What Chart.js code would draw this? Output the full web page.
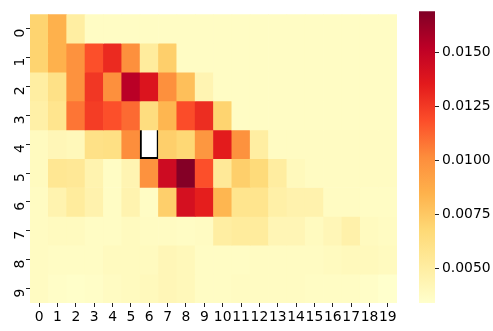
<!DOCTYPE html>
<html>
<head>
<meta charset="UTF-8" />
<title>Heatmap</title>
<script src="https://cdn.jsdelivr.net/npm/chart.js"></script>
<style>
  body { margin: 0; background: #fff; }
  #wrap { position: relative; width: 493px; height: 331px; }
  #main { position: absolute; left: 0; top: 0; }
  #cbar { position: absolute; left: 405px; top: 0; }
</style>
</head>
<body>
<div id="wrap">
  <canvas id="main" width="400" height="331"></canvas>
  <canvas id="cbar" width="88" height="331"></canvas>
</div>
<script>
const rowLabels = ['0','1','2','3','4','5','6','7','8','9'];
const colLabels = ['0','1','2','3','4','5','6','7','8','9','10','11','12','13','14','15','16','17','18','19'];

// one array per row, null = masked cell
const row0 = [0.0070,0.0085,0.0050,0.0037,0.0037,0.0037,0.0037,0.0037,0.0037,0.0037,0.0037,0.0037,0.0037,0.0037,0.0037,0.0037,0.0037,0.0037,0.0037,0.0037];
const row1 = [0.0070,0.0085,0.0099,0.0118,0.0130,0.0100,0.0052,0.0072,0.0037,0.0037,0.0037,0.0037,0.0037,0.0037,0.0037,0.0037,0.0037,0.0037,0.0037,0.0037];
const row2 = [0.0050,0.0061,0.0099,0.0126,0.0100,0.0153,0.0139,0.0100,0.0079,0.0044,0.0037,0.0037,0.0037,0.0037,0.0037,0.0037,0.0037,0.0037,0.0037,0.0037];
const row3 = [0.0048,0.0058,0.0108,0.0124,0.0118,0.0111,0.0064,0.0083,0.0119,0.0129,0.0070,0.0037,0.0037,0.0037,0.0037,0.0037,0.0037,0.0037,0.0037,0.0037];
const row4 = [0.0039,0.0042,0.0041,0.0061,0.0062,0.0101,null,0.0072,0.0068,0.0097,0.0135,0.0099,0.0050,0.0038,0.0038,0.0038,0.0038,0.0038,0.0038,0.0038];
const row5 = [0.0039,0.0056,0.0055,0.0045,0.0037,0.0044,0.0099,0.0145,0.0168,0.0118,0.0054,0.0072,0.0066,0.0051,0.0040,0.0038,0.0038,0.0038,0.0038,0.0038];
const row6 = [0.0038,0.0045,0.0052,0.0046,0.0037,0.0045,0.0037,0.0072,0.0142,0.0134,0.0083,0.0058,0.0058,0.0048,0.0046,0.0046,0.0038,0.0038,0.0037,0.0037];
const row7 = [0.0038,0.0039,0.0039,0.0037,0.0037,0.0039,0.0038,0.0038,0.0037,0.0038,0.0050,0.0052,0.0052,0.0043,0.0043,0.0039,0.0042,0.0047,0.0039,0.0038];
const row8 = [0.0038,0.0037,0.0037,0.0037,0.0039,0.0039,0.0039,0.0042,0.0041,0.0037,0.0037,0.0037,0.0038,0.0038,0.0038,0.0038,0.0039,0.0040,0.0040,0.0039];
const row9 = [0.0038,0.0036,0.0035,0.0036,0.0038,0.0039,0.0040,0.0042,0.0041,0.0037,0.0037,0.0038,0.0038,0.0038,0.0038,0.0037,0.0037,0.0037,0.0036,0.0034];
const rows = [row0,row1,row2,row3,row4,row5,row6,row7,row8,row9];

const vmin = 0.0034, vmax = 0.0169;
const cbarTicks = [0.005, 0.0075, 0.01, 0.0125, 0.015];

// YlOrRd
const stops = [[255,255,204],[255,237,160],[254,217,118],[254,178,76],[253,141,60],[252,78,42],[227,26,28],[189,0,38],[128,0,38]];
function cmap(t) {
  t = Math.max(0, Math.min(1, t));
  const p = t * (stops.length - 1);
  const i = Math.min(Math.floor(p), stops.length - 2);
  const f = p - i;
  const a = stops[i], b = stops[i + 1];
  return 'rgb(' + a.map((v, k) => Math.round(v + (b[k] - v) * f)).join(',') + ')';
}
function colorOf(v) {
  if (v == null) return '#ffffff';
  return cmap((v - vmin) / (vmax - vmin));
}

const font = { family: 'DejaVu Sans', size: 13.9 };

new Chart(document.getElementById('main'), {
  type: 'bar',
  data: {
    labels: colLabels,
    datasets: rows.map((vals, r) => ({
      data: vals.map(() => [r - 0.5, r + 0.5]),
      backgroundColor: vals.map(v => colorOf(v)),
      borderColor: vals.map(v => v == null ? '#000' : 'rgba(0,0,0,0)'),
      borderWidth: vals.map(v => v == null ? 2 : 0),
      barPercentage: 1,
      categoryPercentage: 1,
      grouped: false
    }))
  },
  options: {
    responsive: false,
    animation: false,
    layout: { padding: { top: 5, right: 3, left: 0, bottom: 0 } },
    plugins: { legend: { display: false }, tooltip: { enabled: false } },
    scales: {
      x: {
        grid: { display: true, drawOnChartArea: false, tickLength: 4, color: '#222', offset: false },
        border: { display: false },
        ticks: { font: font, color: '#000', padding: 2, maxRotation: 0, minRotation: 0, autoSkip: false },
        afterFit: s => { s.height = 28; }
      },
      y: {
        type: 'linear',
        min: -0.5, max: 9.5, reverse: true,
        grid: { display: true, drawOnChartArea: false, tickLength: 4, color: '#222' },
        border: { display: false },
        afterBuildTicks: s => { s.ticks = rowLabels.map((l, i) => ({ value: i })); },
        ticks: { font: font, color: '#000', padding: 6, minRotation: 90, maxRotation: 90,
                 callback: (v) => rowLabels[v] },
        afterFit: s => { s.width = 30; }
      }
    }
  }
});

new Chart(document.getElementById('cbar'), {
  type: 'bar',
  data: {
    labels: ['c'],
    datasets: [{
      data: [[vmin, vmax]],
      barPercentage: 1,
      categoryPercentage: 1,
      borderWidth: 0,
      backgroundColor: ctx => {
        const area = ctx.chart.chartArea;
        if (!area) return '#fff';
        const g = ctx.chart.ctx.createLinearGradient(0, area.bottom, 0, area.top);
        stops.forEach((s, i) => g.addColorStop(i / (stops.length - 1), 'rgb(' + s.join(',') + ')'));
        return g;
      }
    }]
  },
  options: {
    responsive: false,
    animation: false,
    layout: { padding: { top: 5, left: 14, right: 0, bottom: 28 } },
    plugins: { legend: { display: false }, tooltip: { enabled: false } },
    scales: {
      x: { display: false },
      y: {
        position: 'right',
        min: vmin, max: vmax,
        grid: { display: true, drawOnChartArea: false, tickLength: 4, color: '#222' },
        border: { display: false },
        afterBuildTicks: s => { s.ticks = cbarTicks.map(v => ({ value: v })); },
        ticks: { font: font, color: '#000', padding: 3, callback: v => v.toFixed(4) },
        afterFit: s => { s.width = 58; }
      }
    }
  }
});
</script>
</body>
</html>
